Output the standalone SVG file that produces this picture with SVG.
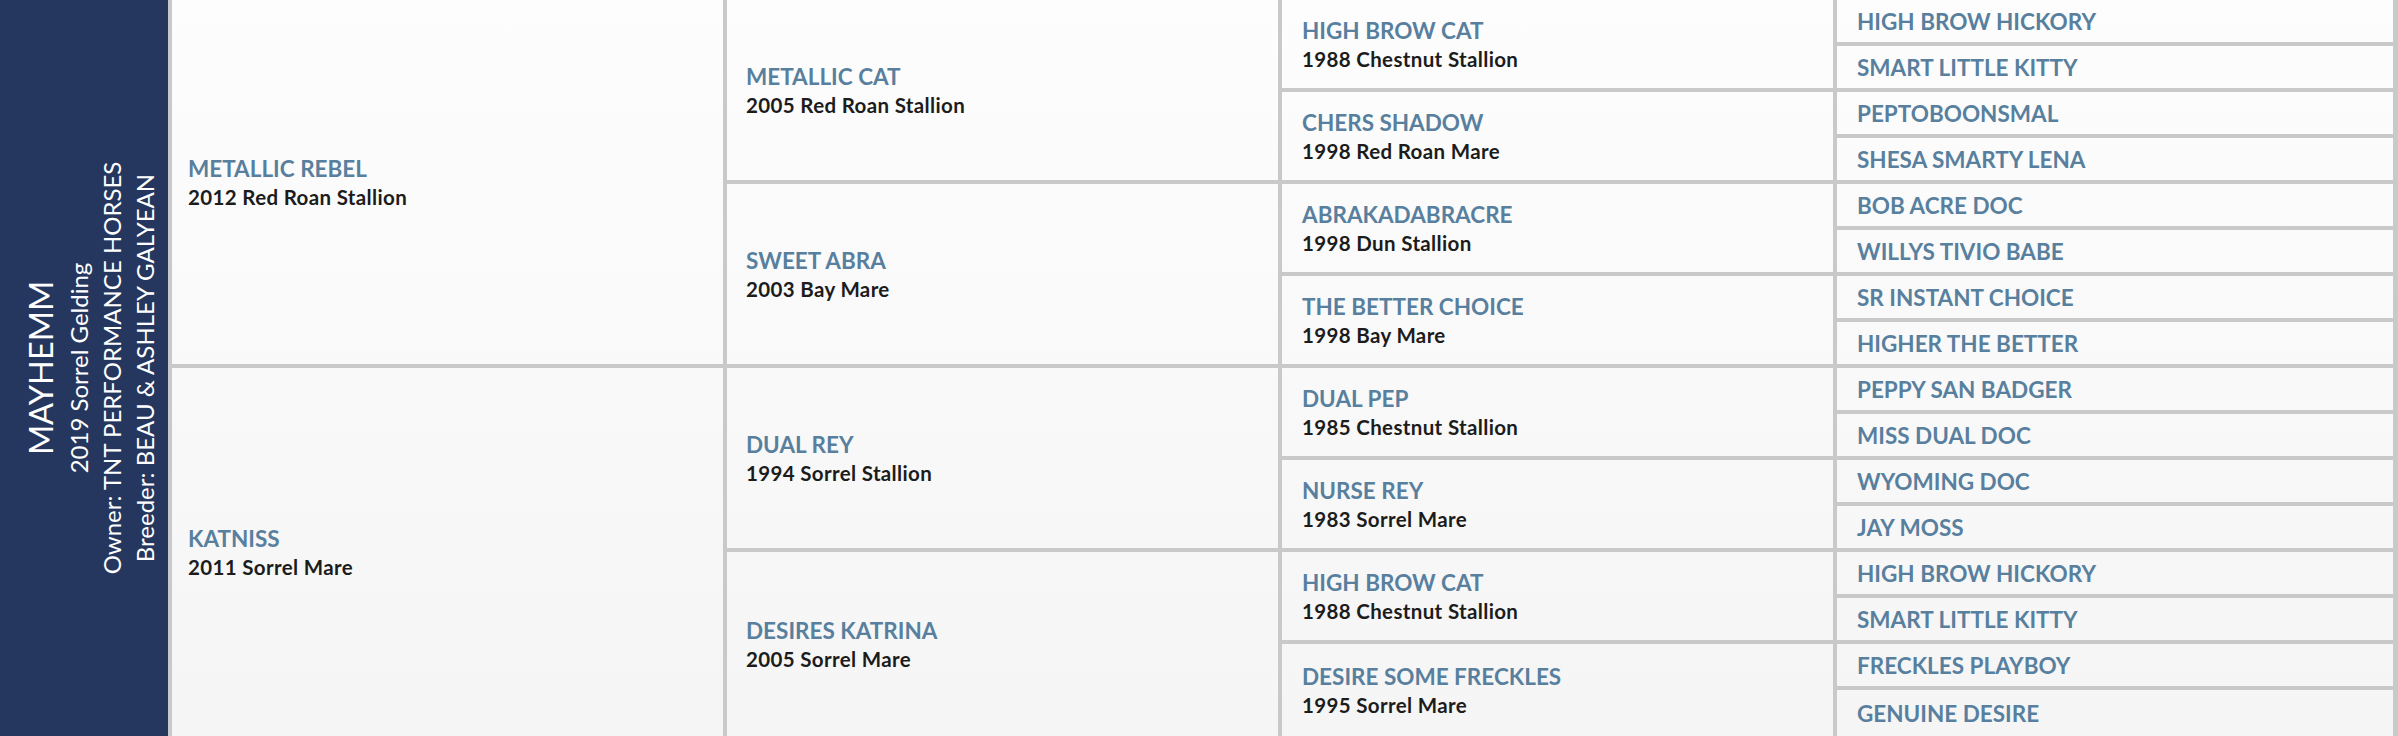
<svg xmlns="http://www.w3.org/2000/svg" width="2398" height="736" viewBox="0 0 2398 736">
<defs>
<linearGradient id="cellbg" x1="0" y1="0" x2="0" y2="736" gradientUnits="userSpaceOnUse">
<stop offset="0" stop-color="#fdfdfd"/>
<stop offset="1" stop-color="#f5f5f5"/>
</linearGradient>
<style>
.cell{fill:url(#cellbg)}
.nm{font-family:Lato,"Open Sans",sans-serif;font-weight:700;font-size:22.5px;fill:#58809e}
.sb{font-family:Lato,"Open Sans",sans-serif;font-weight:700;font-size:20.5px;fill:#1c1c1c;letter-spacing:0.35px}
.pn{font-family:Lato,"Open Sans",sans-serif;font-weight:400;fill:#ffffff;text-anchor:middle}
</style>
</defs>
<g id="grid">
<rect x="0" y="0" width="2398" height="736" fill="#c9c9c9"/>
<rect x="0" y="0" width="168" height="736" fill="#25375f"/>
</g>
<g id="subject">
<text class="pn" font-size="32.5" transform="translate(53,368) rotate(-90)">MAYHEMM</text>
<text class="pn" font-size="24" transform="translate(87.5,368) rotate(-90)">2019 Sorrel Gelding</text>
<text class="pn" font-size="24" transform="translate(121,368) rotate(-90)">Owner: TNT PERFORMANCE HORSES</text>
<text class="pn" font-size="24" transform="translate(154,368) rotate(-90)">Breeder: BEAU &amp; ASHLEY GALYEAN</text>
</g>
<g id="connectors"></g>
<g id="sire"><rect class="cell" x="172" y="0" width="551" height="364"/><text class="nm" x="188" y="177">METALLIC REBEL</text><text class="sb" x="188" y="205">2012 Red Roan Stallion</text></g>
<g id="dam"><rect class="cell" x="172" y="368" width="551" height="368"/><text class="nm" x="188" y="547">KATNISS</text><text class="sb" x="188" y="575">2011 Sorrel Mare</text></g>

<g id="s-s"><rect class="cell" x="727" y="0" width="551" height="180"/><text class="nm" x="746" y="85">METALLIC CAT</text><text class="sb" x="746" y="113">2005 Red Roan Stallion</text></g>
<g id="s-d"><rect class="cell" x="727" y="184" width="551" height="180"/><text class="nm" x="746" y="269">SWEET ABRA</text><text class="sb" x="746" y="297">2003 Bay Mare</text></g>
<g id="d-s"><rect class="cell" x="727" y="368" width="551" height="180"/><text class="nm" x="746" y="453">DUAL REY</text><text class="sb" x="746" y="481">1994 Sorrel Stallion</text></g>
<g id="d-d"><rect class="cell" x="727" y="552" width="551" height="184"/><text class="nm" x="746" y="639">DESIRES KATRINA</text><text class="sb" x="746" y="667">2005 Sorrel Mare</text></g>

<g id="ss-s"><rect class="cell" x="1282" y="0" width="551" height="88"/><text class="nm" x="1302" y="39">HIGH BROW CAT</text><text class="sb" x="1302" y="67">1988 Chestnut Stallion</text></g>
<g id="ss-d"><rect class="cell" x="1282" y="92" width="551" height="88"/><text class="nm" x="1302" y="131">CHERS SHADOW</text><text class="sb" x="1302" y="159">1998 Red Roan Mare</text></g>
<g id="sd-s"><rect class="cell" x="1282" y="184" width="551" height="88"/><text class="nm" x="1302" y="223">ABRAKADABRACRE</text><text class="sb" x="1302" y="251">1998 Dun Stallion</text></g>
<g id="sd-d"><rect class="cell" x="1282" y="276" width="551" height="88"/><text class="nm" x="1302" y="315">THE BETTER CHOICE</text><text class="sb" x="1302" y="343">1998 Bay Mare</text></g>
<g id="ds-s"><rect class="cell" x="1282" y="368" width="551" height="88"/><text class="nm" x="1302" y="407">DUAL PEP</text><text class="sb" x="1302" y="435">1985 Chestnut Stallion</text></g>
<g id="ds-d"><rect class="cell" x="1282" y="460" width="551" height="88"/><text class="nm" x="1302" y="499">NURSE REY</text><text class="sb" x="1302" y="527">1983 Sorrel Mare</text></g>
<g id="dd-s"><rect class="cell" x="1282" y="552" width="551" height="88"/><text class="nm" x="1302" y="591">HIGH BROW CAT</text><text class="sb" x="1302" y="619">1988 Chestnut Stallion</text></g>
<g id="dd-d"><rect class="cell" x="1282" y="644" width="551" height="92"/><text class="nm" x="1302" y="685">DESIRE SOME FRECKLES</text><text class="sb" x="1302" y="713">1995 Sorrel Mare</text></g>

<g id="g4-1"><rect class="cell" x="1837" y="0" width="556" height="42"/><text class="nm" x="1857" y="29.5">HIGH BROW HICKORY</text></g>
<g id="g4-2"><rect class="cell" x="1837" y="46" width="556" height="42"/><text class="nm" x="1857" y="75.5">SMART LITTLE KITTY</text></g>
<g id="g4-3"><rect class="cell" x="1837" y="92" width="556" height="42"/><text class="nm" x="1857" y="121.5">PEPTOBOONSMAL</text></g>
<g id="g4-4"><rect class="cell" x="1837" y="138" width="556" height="42"/><text class="nm" x="1857" y="167.5">SHESA SMARTY LENA</text></g>
<g id="g4-5"><rect class="cell" x="1837" y="184" width="556" height="42"/><text class="nm" x="1857" y="213.5">BOB ACRE DOC</text></g>
<g id="g4-6"><rect class="cell" x="1837" y="230" width="556" height="42"/><text class="nm" x="1857" y="259.5">WILLYS TIVIO BABE</text></g>
<g id="g4-7"><rect class="cell" x="1837" y="276" width="556" height="42"/><text class="nm" x="1857" y="305.5">SR INSTANT CHOICE</text></g>
<g id="g4-8"><rect class="cell" x="1837" y="322" width="556" height="42"/><text class="nm" x="1857" y="351.5">HIGHER THE BETTER</text></g>
<g id="g4-9"><rect class="cell" x="1837" y="368" width="556" height="42"/><text class="nm" x="1857" y="397.5">PEPPY SAN BADGER</text></g>
<g id="g4-10"><rect class="cell" x="1837" y="414" width="556" height="42"/><text class="nm" x="1857" y="443.5">MISS DUAL DOC</text></g>
<g id="g4-11"><rect class="cell" x="1837" y="460" width="556" height="42"/><text class="nm" x="1857" y="489.5">WYOMING DOC</text></g>
<g id="g4-12"><rect class="cell" x="1837" y="506" width="556" height="42"/><text class="nm" x="1857" y="535.5">JAY MOSS</text></g>
<g id="g4-13"><rect class="cell" x="1837" y="552" width="556" height="42"/><text class="nm" x="1857" y="581.5">HIGH BROW HICKORY</text></g>
<g id="g4-14"><rect class="cell" x="1837" y="598" width="556" height="42"/><text class="nm" x="1857" y="627.5">SMART LITTLE KITTY</text></g>
<g id="g4-15"><rect class="cell" x="1837" y="644" width="556" height="42"/><text class="nm" x="1857" y="673.5">FRECKLES PLAYBOY</text></g>
<g id="g4-16"><rect class="cell" x="1837" y="690" width="556" height="46"/><text class="nm" x="1857" y="721.5">GENUINE DESIRE</text></g>
</svg>
